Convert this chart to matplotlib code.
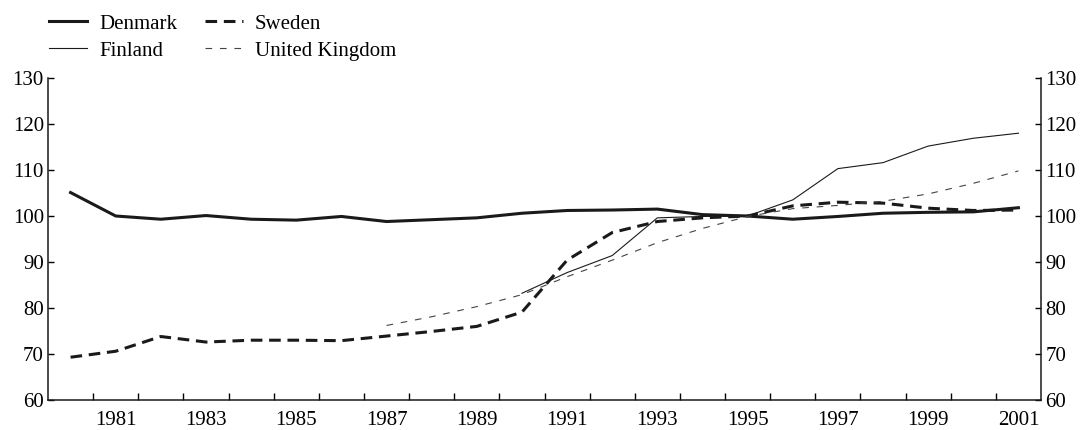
import matplotlib
matplotlib.use("Agg")
import matplotlib.pyplot as plt
from matplotlib.ticker import FixedLocator

years = list(range(1980, 2002))
denmark = [105.1, 100.0, 99.3, 100.1, 99.3, 99.1, 99.9, 98.8, 99.2, 99.6, 100.6,
           101.2, 101.3, 101.5, 100.3, 100.0, 99.3, 99.9, 100.6, 100.8, 100.9, 101.8]
sweden = [69.3, 70.6, 73.8, 72.6, 73.0, 73.0, 72.9, 73.9, 74.9, 76.0, 79.1,
          90.4, 96.4, 98.8, 99.6, 100.0, 102.2, 103.0, 102.8, 101.7, 101.2, 101.3]
finland_years = list(range(1990, 2002))
finland = [83.2, 87.7, 91.4, 99.6, 99.9, 100.0, 103.5, 110.3, 111.6, 115.2, 116.9, 118.0]
uk_years = list(range(1987, 2002))
uk = [76.2, 78.1, 80.3, 82.9, 86.8, 90.4, 94.2, 97.3, 99.9, 101.6, 102.3, 103.2, 104.8, 107.1, 109.8]

yticks = [60, 70, 80, 90, 100, 110, 120, 130]
xlabels_years = list(range(1981, 2002, 2))

plt.rcParams['font.family'] = ['Liberation Serif', 'DejaVu Serif']
fs = 15

fig = plt.figure(figsize=(10.82, 4.30), dpi=100)
ax = fig.add_axes([48/1082, 1 - 400/430, (1041 - 48)/1082, (400 - 78)/430])

l1, = ax.plot(years, denmark, color='#1a1a1a', lw=2.2, solid_joinstyle='round')
l2, = ax.plot(finland_years, finland, color='#1a1a1a', lw=0.8)
l3, = ax.plot(years, sweden, color='#1a1a1a', lw=2.2, dashes=(3.8, 2.2))
l4, = ax.plot(uk_years, uk, color='#444444', lw=0.8, dashes=(6, 7))

ax.set_xlim(1979.5, 2001.5)
ax.set_ylim(60, 130)
ax.spines['top'].set_visible(False)
for s in ['left', 'right', 'bottom']:
    ax.spines[s].set_linewidth(1.1)
    ax.spines[s].set_color('#1a1a1a')

ax.set_yticks(yticks)
ax.tick_params(axis='y', direction='in', length=4, width=1, left=True, right=True,
               labelleft=True, labelright=True, labelsize=fs, pad=3)
ax.set_xticks(xlabels_years)
ax.set_xticklabels([str(y) for y in xlabels_years])
ax.xaxis.set_minor_locator(FixedLocator([y + 0.5 for y in range(1980, 2001)]))
ax.tick_params(axis='x', which='major', length=0, labelsize=fs, pad=8)
ax.tick_params(axis='x', which='minor', direction='in', length=5, width=1)

fig.legend([l1, l2, l3, l4], ['Denmark', 'Finland', 'Sweden', 'United Kingdom'],
           ncol=2, loc='upper left', bbox_to_anchor=(49/1082, 1 - 14/430),
           frameon=False, fontsize=fs, handlelength=1.8, handletextpad=0.6,
           columnspacing=1.35, labelspacing=0.36, borderpad=0, borderaxespad=0)

fig.savefig('out.png', dpi=100)
